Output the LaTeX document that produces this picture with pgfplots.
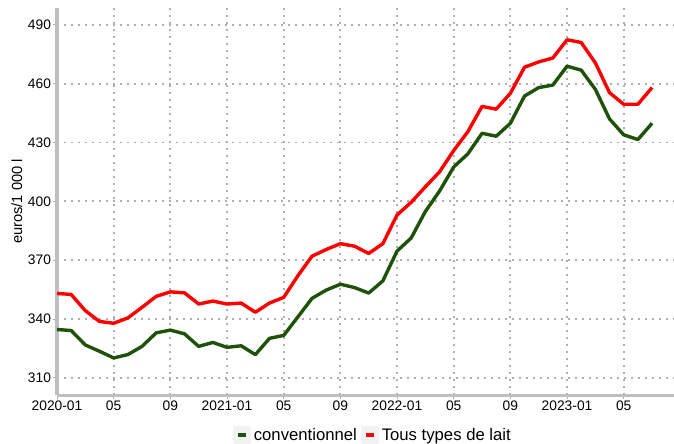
\documentclass[border=0pt]{standalone}
\usepackage{pgfplots}
\pgfplotsset{compat=1.18}
\usepackage{fontspec}
\setmainfont{Liberation Sans}
\definecolor{conv}{RGB}{30,82,8}
\definecolor{tous}{RGB}{255,0,0}
\definecolor{axgray}{RGB}{190,190,190}
\definecolor{gridgray}{RGB}{175,175,175}
\definecolor{keybg}{RGB}{242,242,242}
\pgfplotstableread{
m conv tous
0 334.6 353.0
1 334.1 352.5
2 326.7 344.2
3 323.5 338.7
4 320.1 337.8
5 321.8 340.5
6 326.0 345.9
7 332.9 351.5
8 334.3 353.8
9 332.4 353.3
10 326.0 347.6
11 328.0 349.1
12 325.5 347.6
13 326.3 348.1
14 321.8 343.4
15 330.1 348.1
16 331.6 351.0
17 341.0 362.0
18 350.5 372.0
19 354.7 375.4
20 357.7 378.4
21 356.0 377.1
22 353.2 373.4
23 359.4 378.4
24 374.6 393.0
25 381.3 399.5
26 394.8 407.4
27 405.2 415.0
28 417.5 425.9
29 424.2 435.5
30 434.7 448.4
31 433.2 447.0
32 439.8 455.1
33 453.7 468.4
34 458.0 471.1
35 459.3 473.1
36 468.9 482.4
37 466.9 481.0
38 457.1 470.6
39 442.0 455.4
40 433.9 449.5
41 431.5 449.5
42 439.8 458.0
}\milk
\begin{document}
\begin{tikzpicture}
\begin{axis}[
  name=ax,
  scale only axis,
  width=617bp, height=387bp,
  xmin=0, xmax=43.55,
  ymin=301.2, ymax=498.6,
  axis x line=bottom, axis y line=left,
  axis line style={-, draw=axgray, line width=3bp},
  xtick={0,4,...,40},
  xticklabels={2020-01,05,09,2021-01,05,09,2022-01,05,09,2023-01,05},
  ytick={310,340,...,490},
  tick align=outside,
  major tick length=4bp,
  tick style={draw=gridgray, line width=0.8bp},
  grid=major,
  major grid style={draw=gridgray, line width=1.8bp, dash pattern=on 1.8bp off 5.2bp},
  /pgf/number format/assume math mode=true,
  ticklabel style={font=\fontsize{13.8bp}{16bp}\selectfont, text=black},
  xticklabel style={yshift=2bp},
  yticklabel style={xshift=1.5bp},
  ylabel={euros/1 000 l},
  ylabel style={at={(axis description cs:-0.065,0.5)}, anchor=center, font=\fontsize{14.7bp}{17bp}\selectfont},
  legend style={at={(axis description cs:0.512,0)}, anchor=center, yshift=-40bp,
    draw=none, fill=none, inner sep=0pt,
    font=\fontsize{16.7bp}{19bp}\selectfont,
    /tikz/every even column/.append style={column sep=2bp},
    /tikz/every odd column/.append style={column sep=0.5bp}},
  legend columns=-1,
  legend image code/.code={
    \fill[keybg] (0bp,-7.5bp) rectangle (15bp,7.5bp);
    \draw[#1, line width=3.5bp] (3.5bp,0bp) -- (11.5bp,0bp);
  },
  clip=false,
]
\addplot[conv, line width=3.4bp, line join=round] table[x=m, y=conv] {\milk};
\addlegendentry{conventionnel}
\addplot[tous, line width=3.4bp, line join=round] table[x=m, y=tous] {\milk};
\addlegendentry{Tous types de lait}
\end{axis}
\pgfresetboundingbox
\path ([xshift=-57bp,yshift=-49bp]ax.south west) rectangle ([yshift=8bp]ax.north east);
\end{tikzpicture}
\end{document}
